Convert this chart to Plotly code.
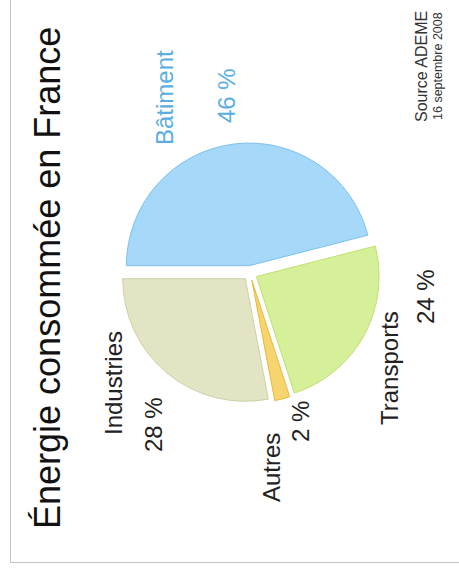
import plotly.graph_objects as go

# ---- data ----
categories = ["Bâtiment", "Transports", "Autres", "Industries"]
values = [46, 24, 2, 28]
value_labels = ["46 %", "24 %", "2 %", "28 %"]
title_text = "Énergie consommée en France"
source_lines = ["Source ADEME", "16 septembre 2008"]

# ---- styles ----
W, H = 459, 570
slice_colors = ["#a6d9f9", "#d5f098", "#f7d56e", "#e3e4c4"]
slice_lines = ["#7cc0ec", "#c0e070", "#e6b93a", "#cfd0a6"]
label_colors = ["#5aaee2", "#222222", "#222222", "#222222"]
FONT = "Liberation Sans, Arial, Helvetica, sans-serif"

# label centres (pixels) per category: (name_pos, value_pos)
label_pos = {
    "Bâtiment": ((165, 98), (227, 96)),
    "Transports": ((389, 368), (425, 297)),
    "Autres": ((271, 468), (300, 422)),
    "Industries": ((113, 383), (153, 425)),
}


def px(x):
    return x / W


def py(y):
    return 1 - y / H


fig = go.Figure()
fig.add_trace(go.Pie(
    labels=categories,
    values=values,
    sort=False,
    direction="clockwise",
    rotation=270,
    pull=[0.06] * len(values),
    marker=dict(colors=slice_colors, line=dict(color=slice_lines, width=1)),
    textinfo="none",
    hoverinfo="label+percent",
    showlegend=False,
    domain=dict(x=[px(120), px(380)], y=[py(403), py(143)]),
))

annotations = []
for cat, vlab, col in zip(categories, value_labels, label_colors):
    (nx, ny), (vx, vy) = label_pos[cat]
    for txt, x, y in ((cat, nx, ny), (vlab, vx, vy)):
        annotations.append(dict(
            text=txt, x=px(x), y=py(y), xref="paper", yref="paper",
            showarrow=False, textangle=-90, xanchor="center", yanchor="middle",
            font=dict(family=FONT, size=24, color=col),
        ))

annotations.append(dict(
    text=title_text, x=px(47), y=py(278), xref="paper", yref="paper",
    showarrow=False, textangle=-90, xanchor="center", yanchor="middle",
    font=dict(family=FONT, size=36, color="#111111"),
))
annotations.append(dict(
    text=source_lines[0], x=px(421), y=py(67), xref="paper", yref="paper",
    showarrow=False, textangle=-90, xanchor="center", yanchor="middle",
    font=dict(family=FONT, size=16, color="#333333"),
))
annotations.append(dict(
    text=source_lines[1], x=px(438), y=py(66), xref="paper", yref="paper",
    showarrow=False, textangle=-90, xanchor="center", yanchor="middle",
    font=dict(family=FONT, size=12.5, color="#333333"),
))

fig.update_layout(
    width=W, height=H,
    margin=dict(l=0, r=0, t=0, b=0),
    paper_bgcolor="white",
    plot_bgcolor="white",
    annotations=annotations,
    shapes=[dict(
        type="rect", xref="paper", yref="paper",
        x0=px(10.5), x1=1.05, y0=py(562.5), y1=1.05,
        line=dict(color="#c4c4c4", width=1), fillcolor="rgba(0,0,0,0)",
        layer="below",
    )],
)

fig.write_html("out.html")
